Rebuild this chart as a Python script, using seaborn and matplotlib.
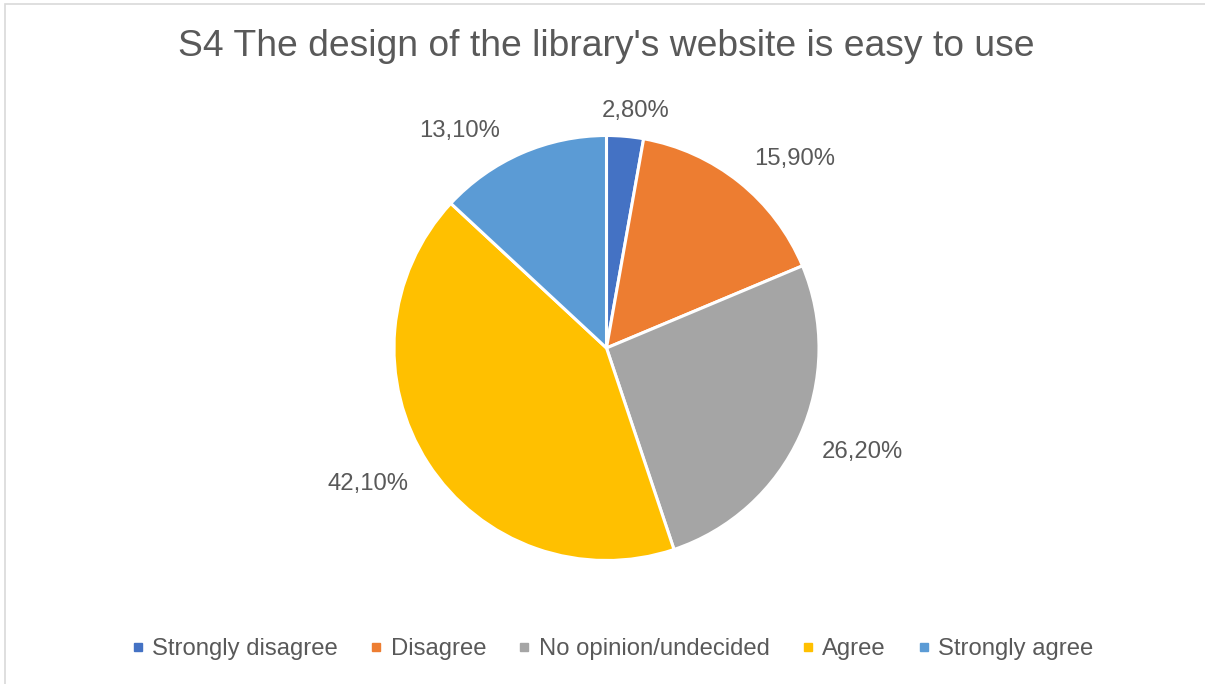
import matplotlib
matplotlib.use("Agg")
import matplotlib.pyplot as plt
from matplotlib.lines import Line2D
from matplotlib.patches import Rectangle
import seaborn as sns

categories = ["Strongly disagree", "Disagree", "No opinion/undecided", "Agree", "Strongly agree"]
values = [2.8, 15.9, 26.2, 42.1, 13.1]
labels = ["2,80%", "15,90%", "26,20%", "42,10%", "13,10%"]
title = "S4 The design of the library's website is easy to use"

sns.set_theme(style="white")
plt.rcParams["font.family"] = ["Liberation Sans", "DejaVu Sans"]
colors = sns.color_palette(["#4472C4", "#ED7D31", "#A5A5A5", "#FFC000", "#5B9BD5"])
text_color = "#595959"

W, H = 1205, 684
fig = plt.figure(figsize=(W / 100, H / 100), dpi=100)
ax = fig.add_axes([0, 0, 1, 1])

cx, cy, r = 606.5, H - 348, 212.5
wedges, _ = ax.pie(values, colors=colors, startangle=90, counterclock=False,
                   center=(cx, cy), radius=r,
                   wedgeprops=dict(edgecolor="white", linewidth=2.2))

# outside-end data labels
label_pos = [(636, 111), (795, 159), (862, 452), (368, 484), (460, 131)]
for (lx, ly), t in zip(label_pos, labels):
    ax.text(lx, H - ly, t, ha="center", va="center", fontsize=17.2, color=text_color)

ax.text(W / 2 + 4, H - 47, title, ha="center", va="center", fontsize=26.8, color=text_color)

# chart area border
ax.add_patch(Rectangle((5, -5), W, H - 4 + 5, fill=False, edgecolor="#D9D9D9", linewidth=1.2))

handles = [Line2D([], [], marker="s", linestyle="none", markersize=6,
                  markerfacecolor=c, markeredgecolor=c) for c in colors]
ax.legend(handles, categories, loc="center", bbox_to_anchor=(611 / W, 1 - 649 / H),
          ncol=5, frameon=False, fontsize=17.2, labelcolor=text_color,
          handletextpad=0.2, columnspacing=1.2, handlelength=0.8)

ax.set_xlim(0, W)
ax.set_ylim(0, H)
ax.set_aspect("equal")
ax.axis("off")
fig.savefig("out.png", dpi=100, facecolor="white")
